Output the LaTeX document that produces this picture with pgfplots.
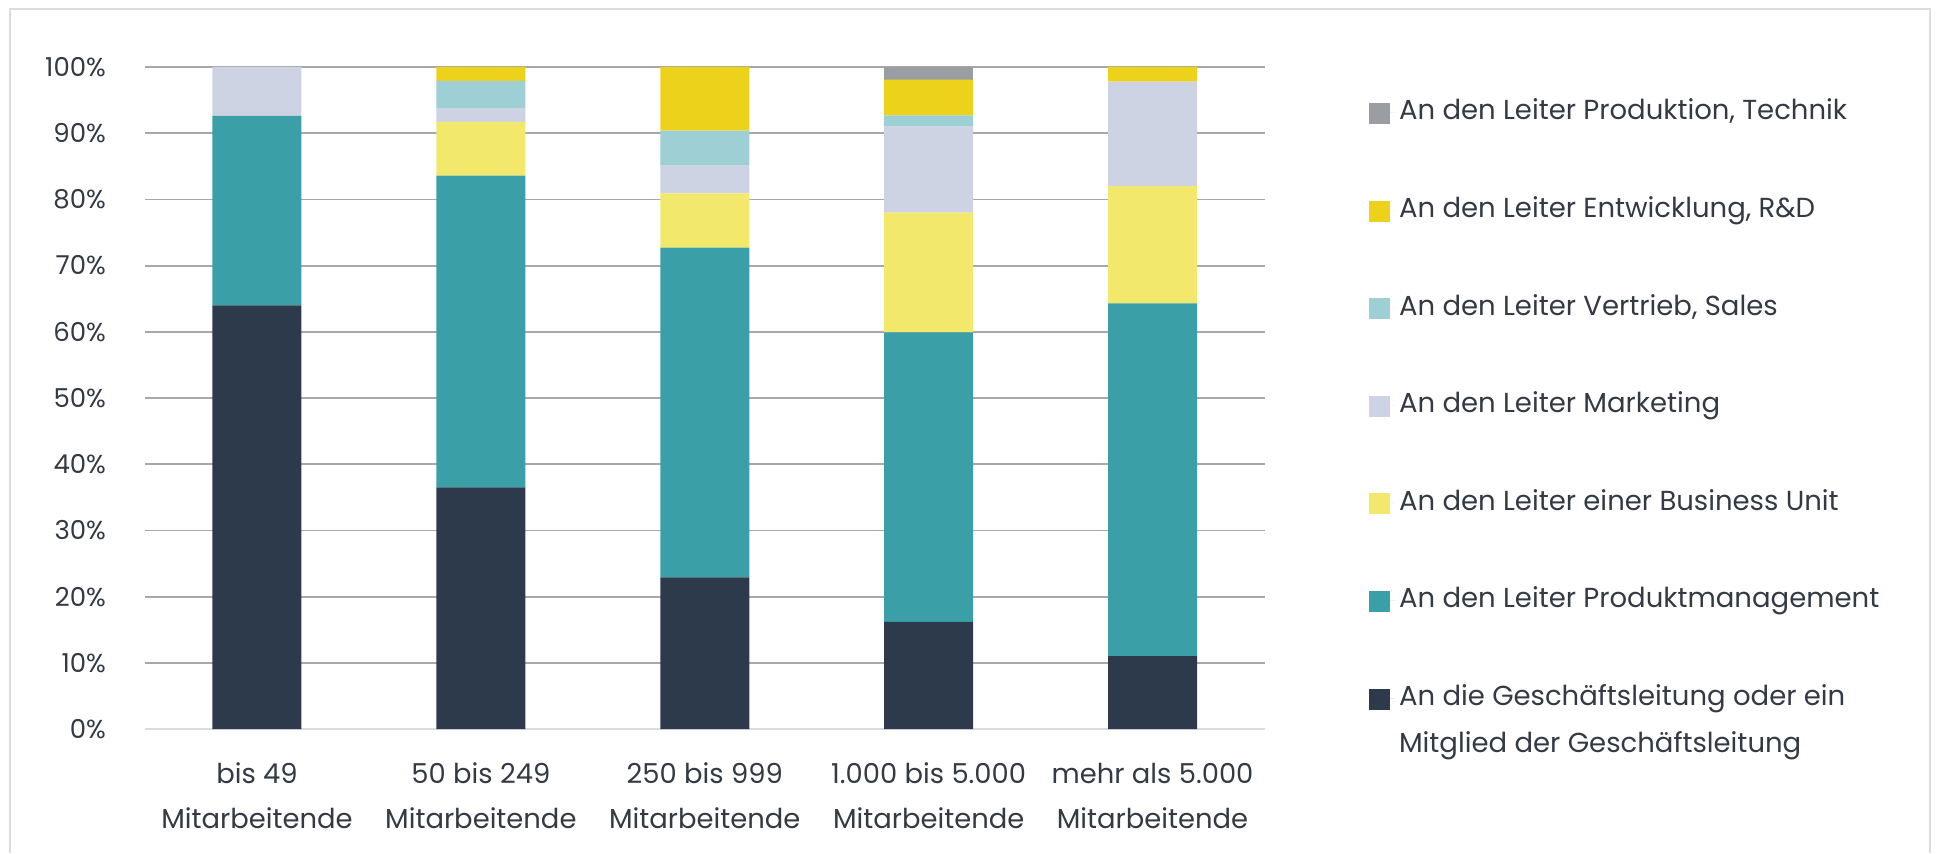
\documentclass[border=0pt]{standalone}
\usepackage{pgfplots}
\pgfplotsset{compat=1.18}
\usepackage{fontspec}
\setmainfont{Poppins}
\definecolor{cDark}{HTML}{2C3A4B}
\definecolor{cTeal}{HTML}{3A9FA6}
\definecolor{cBU}{HTML}{F2E86B}
\definecolor{cMkt}{HTML}{CDD3E2}
\definecolor{cSales}{HTML}{9DCFD5}
\definecolor{cRD}{HTML}{EDD21C}
\definecolor{cTech}{HTML}{9A9DA2}
\definecolor{cText}{HTML}{333A44}
\definecolor{cGrid}{HTML}{A8A8A8}
\definecolor{cFrame}{HTML}{DCDCDC}
\begin{document}
\begin{tikzpicture}
\useasboundingbox (-72.5pt,-62pt) rectangle (895.5pt,364.5pt);
\draw[cFrame, line width=0.8pt] (-67.5pt,-62pt) -- (-67.5pt,360pt) -- (892.5pt,360pt) -- (892.5pt,-62pt);
\begin{axis}[
  at={(0pt,0pt)}, anchor=south west,
  scale only axis,
  width=559.75pt, height=331pt,
  ybar stacked,
  bar width=44.5pt,
  xmin=-0.5, xmax=4.5,
  ymin=0, ymax=100,
  ytick={0,10,...,100},
  xtick=data,
  xticklabels={{bis 49\\Mitarbeitende},{50 bis 249\\Mitarbeitende},{250 bis 999\\Mitarbeitende},{1.000 bis 5.000\\Mitarbeitende},{mehr als 5.000\\Mitarbeitende}},
  yticklabel={\pgfmathprintnumber{\tick}\%},
  /pgf/number format/assume math mode=true,
  major tick length=0pt,
  ymajorgrids,
  grid style={cGrid, line width=0.9pt},
  axis x line*=bottom,
  axis y line*=left,
  x axis line style={draw=cFrame, line width=1.4pt, -},
  y axis line style={draw=none},
  tick label style={text=cText},
  yticklabel style={font=\fontsize{13}{22.5}\selectfont, anchor=east, xshift=-16pt},
  xticklabel style={font=\fontsize{13.7}{22.5}\selectfont, align=center, anchor=north, yshift=-13.5pt},
  every axis plot/.append style={draw=none},
  reverse legend,
  legend cell align=left,
  legend style={
    at={(1.093,0.957)}, anchor=north west,
    draw=none, fill=none, inner sep=0pt,
    font=\fontsize{13.75}{23.5}\selectfont, text=cText,
    row sep=31.8pt,
    nodes={text height=10pt, text depth=3pt},
  },
  legend image code/.code={\path (0pt,0pt) -- (13pt,0pt); \fill[#1] (0pt,-5.6pt) rectangle (10.5pt,4.9pt);},
]
\addplot[fill=cDark] coordinates {(0,64.0) (1,36.5) (2,22.9) (3,16.2) (4,11.0)};
\addlegendentry{\raisebox{0pt}[\height][0pt]{\begin{tabular}[t]{@{}l@{}}An die Geschäftsleitung oder ein\\Mitglied der Geschäftsleitung\end{tabular}}}
\addplot[fill=cTeal] coordinates {(0,28.6) (1,47.1) (2,49.8) (3,43.7) (4,53.3)};
\addlegendentry{An den Leiter Produktmanagement}
\addplot[fill=cBU] coordinates {(0,0) (1,8.1) (2,8.2) (3,18.1) (4,17.7)};
\addlegendentry{An den Leiter einer Business Unit}
\addplot[fill=cMkt] coordinates {(0,7.4) (1,2.1) (2,4.2) (3,13.0) (4,15.8)};
\addlegendentry{An den Leiter Marketing}
\addplot[fill=cSales] coordinates {(0,0) (1,4.1) (2,5.3) (3,1.7) (4,0)};
\addlegendentry{An den Leiter Vertrieb, Sales}
\addplot[fill=cRD] coordinates {(0,0) (1,2.1) (2,9.6) (3,5.4) (4,2.2)};
\addlegendentry{An den Leiter Entwicklung, R\&D}
\addplot[fill=cTech] coordinates {(0,0) (1,0) (2,0) (3,1.9) (4,0)};
\addlegendentry{An den Leiter Produktion, Technik}
\end{axis}
\end{tikzpicture}
\end{document}
